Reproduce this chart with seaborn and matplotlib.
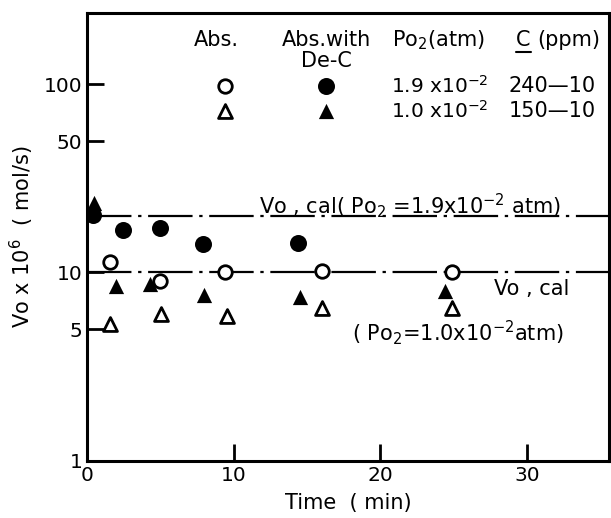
import matplotlib
matplotlib.use("Agg")
import matplotlib.pyplot as plt
import seaborn as sns
import pandas as pd
from matplotlib.lines import Line2D

# Oxygen absorption rate vs time
abs_19_time = [1.55, 5.0, 9.45, 16.0, 24.9]
abs_19_vo = [11.3, 9.0, 10.1, 10.2, 10.1]

dec_19_time = [0.4, 2.45, 5.0, 7.95, 14.4]
dec_19_vo = [20.1, 16.9, 17.2, 14.2, 14.3]

abs_10_time = [1.6, 5.05, 9.55, 16.0, 24.9]
abs_10_vo = [5.3, 6.0, 5.9, 6.5, 6.5]

dec_10_time = [0.5, 2.0, 4.3, 8.0, 14.55, 24.4]
dec_10_vo = [23.3, 8.5, 8.7, 7.6, 7.4, 8.0]

# calculated rates
vo_cal_19 = 20.0
vo_cal_10 = 10.0

x_ticks = [0, 10, 20, 30]
y_ticks = [1, 5, 10, 50, 100]
y_tick_labels = ["1", "5", "10", "50", "100"]

sns.set_style("ticks")
plt.rcParams["font.family"] = ["DejaVu Sans"]
plt.rcParams["mathtext.default"] = "regular"
plt.rcParams["font.size"] = 15
plt.rcParams["text.color"] = "black"
plt.rcParams["axes.labelcolor"] = "black"

fig = plt.figure(figsize=(6.11, 5.18), dpi=100)
ax = fig.add_axes([0.142, 0.111, 0.855, 0.864])

def frame(t, v):
    return pd.DataFrame({"time": t, "vo": v})

# calculated lines
dash = (20, 3, 1.5, 3)
for val in (vo_cal_19, vo_cal_10):
    sns.lineplot(data=frame([0, 36], [val, val]), x="time", y="vo", ax=ax,
                 color="black", lw=1.6, dashes=False, zorder=2)
for ln in ax.lines:
    ln.set_dashes(dash)

sns.scatterplot(data=frame(dec_19_time, dec_19_vo), x="time", y="vo", ax=ax,
                marker="o", s=150, color="black", edgecolor="black", linewidth=0, zorder=4)
sns.scatterplot(data=frame(dec_10_time, dec_10_vo), x="time", y="vo", ax=ax,
                marker="^", s=120, color="black", edgecolor="black", linewidth=0, zorder=5)
sns.scatterplot(data=frame(abs_19_time, abs_19_vo), x="time", y="vo", ax=ax,
                marker="o", s=95, facecolor="white", edgecolor="black", linewidth=2.0, zorder=4)
sns.scatterplot(data=frame(abs_10_time, abs_10_vo), x="time", y="vo", ax=ax,
                marker="^", s=100, facecolor="white", edgecolor="black", linewidth=2.0, zorder=4)

ax.set_yscale("log")
ax.set_xlim(0, 35.6)
ax.set_ylim(1, 240)
ax.set_xticks(x_ticks)
ax.set_xticklabels([str(t) for t in x_ticks])
ax.set_yticks(y_ticks)
ax.set_yticklabels(y_tick_labels)
ax.minorticks_off()
ax.tick_params(direction="in", length=12, width=2, labelsize=14.5, pad=4, colors="black")
ax.tick_params(axis="y", pad=3)
for sp in ax.spines.values():
    sp.set_visible(True)
    sp.set_linewidth(2.2)
    sp.set_color("black")

ax.set_xlabel("Time  ( min)", fontsize=15, labelpad=6)
ax.set_ylabel(r"Vo x 10$^{6}$  ( mol/s)", fontsize=15, labelpad=6)

# line annotations
ax.text(22.05, 20.45, r"Vo , cal( Po$_2$ =1.9x10$^{-2}$ atm)", fontsize=15,
        ha="center", va="baseline", zorder=6)
ax.text(30.3, 8.2, "Vo , cal", fontsize=15, ha="center", va="center")
ax.text(25.3, 4.76, r"( Po$_2$=1.0x10$^{-2}$atm)", fontsize=15, ha="center", va="center")

# key table
tr = ax.transAxes
hy, r1, r2 = 0.940, 0.837, 0.781
ax.text(0.248, hy, "Abs.", transform=tr, ha="center", va="center", fontsize=15)
ax.text(0.458, hy, "Abs.with", transform=tr, ha="center", va="center", fontsize=15)
ax.text(0.458, 0.893, "De-C", transform=tr, ha="center", va="center", fontsize=15)
ax.text(0.585, hy, r"Po$_2$(atm)", transform=tr, ha="left", va="center", fontsize=15)
ctext = ax.text(0.822, hy, "C", transform=tr, ha="left", va="center", fontsize=15)
ax.text(0.862, hy, "(ppm)", transform=tr, ha="left", va="center", fontsize=15)

ax.scatter([0.265], [r1], transform=tr, marker="o", s=95, facecolor="white",
           edgecolor="black", linewidth=2.0, clip_on=False)
ax.scatter([0.458], [r1], transform=tr, marker="o", s=150, color="black", linewidth=0, clip_on=False)
ax.scatter([0.265], [r2], transform=tr, marker="^", s=100, facecolor="white",
           edgecolor="black", linewidth=2.0, clip_on=False)
ax.scatter([0.458], [r2], transform=tr, marker="^", s=120, color="black", linewidth=0, clip_on=False)

ax.text(0.583, r1, r"1.9 x10$^{-2}$", transform=tr, ha="left", va="center", fontsize=14.5)
ax.text(0.583, r2, r"1.0 x10$^{-2}$", transform=tr, ha="left", va="center", fontsize=14.5)
ax.text(0.808, r1, "240\u201410", transform=tr, ha="left", va="center", fontsize=15)
ax.text(0.808, r2, "150\u201410", transform=tr, ha="left", va="center", fontsize=15)

# underline the C in the header
fig.canvas.draw()
bb = ctext.get_window_extent().transformed(tr.inverted())
ax.add_line(Line2D([bb.x0, bb.x1], [bb.y0 - 0.004, bb.y0 - 0.004], transform=tr,
                   color="black", lw=1.5, clip_on=False))

fig.savefig("out.png", dpi=100)
